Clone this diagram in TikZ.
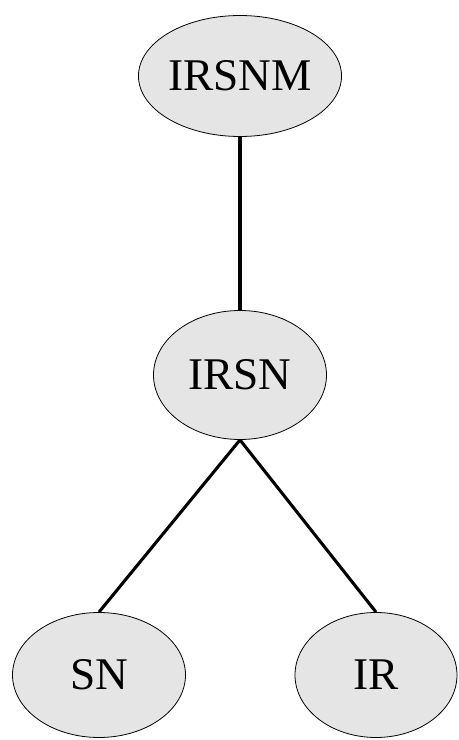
\documentclass[tikz,border=0pt]{standalone}
\usepackage{fontspec}
\setmainfont{Liberation Serif}
\usepackage{tikz}
\usetikzlibrary{shapes.geometric, positioning}
\usepackage{xcolor}

\begin{document}
\begin{tikzpicture}[x=0.75pt, y=0.75pt,
        blob/.style={ellipse, draw=black, line width=0.6pt, fill=black!10,
            inner sep=0pt, font=\fontsize{34}{40}\selectfont},
        link/.style={line width=2.3pt}]
        \useasboundingbox (0,0) rectangle (458,740);

        % Nodes of the tree
        \node[blob, minimum width=132.75pt, minimum height=90.75pt] (IRSNM) at (240,664) {IRSNM};
        \node[blob, minimum width=129.75pt, minimum height=96.75pt] (IRSN) at (240,365) {IRSN};
        \node[blob, minimum width=129.75pt, minimum height=93.75pt] (SN) at (99,65) {SN};
        \node[blob, minimum width=121.5pt, minimum height=93.75pt] (IR) at (376,65) {IR};

        % Edges
        \draw[link] (IRSNM.south) -- (IRSN.north);
        \draw[link] (IRSN.south) -- (SN.north);
        \draw[link] (IRSN.south) -- (IR.north);
    \end{tikzpicture}
\end{document}
